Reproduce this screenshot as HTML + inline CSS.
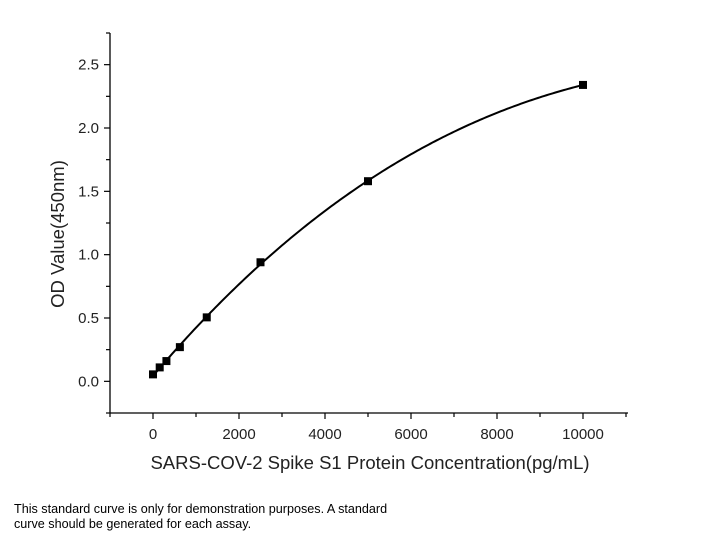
<!DOCTYPE html>
<html><head><meta charset="utf-8"><style>
body{margin:0;background:#fff;width:702px;height:542px;overflow:hidden;font-family:"Liberation Sans",Arial,sans-serif}
svg{position:absolute;left:0;top:0}
.note{position:absolute;left:14px;top:502px;font-size:12.6px;line-height:14.5px;color:#000;width:420px}
</style></head><body>
<svg id="chart" width="702" height="542"></svg>
<div class="note">This standard curve is only for demonstration purposes. A standard<br>curve should be generated for each assay.</div>
<script>
const concs=[0,156,312,625,1250,2500,5000,10000];
const ods=[0.055,0.11,0.16,0.27,0.505,0.94,1.58,2.34];
const xTicks=[0,2000,4000,6000,8000,10000];
const yTicks=[0.0,0.5,1.0,1.5,2.0,2.5];
const NS="http://www.w3.org/2000/svg";
const svg=document.getElementById('chart');
const X0=110,X1=626,Y0=413,Y1=33;
const xmin=-1000,xmax=11000,ymin=-0.25,ymax=2.75;
const sx=v=>X0+(v-xmin)/(xmax-xmin)*(X1-X0);
const sy=v=>Y0-(v-ymin)/(ymax-ymin)*(Y0-Y1);
function mk(t,a,p){const e=document.createElementNS(NS,t);for(const k in a)e.setAttribute(k,a[k]);(p||svg).appendChild(e);return e;}
let e;
e=mk('line',{x1:X0,y1:Y0,x2:X1+2,y2:Y0,stroke:'#000','stroke-width':1.3});


e=mk('line',{x1:X0,y1:Y0,x2:X0,y2:Y1,stroke:'#000','stroke-width':1.3});


for(let v=-1000;v<=11000;v+=1000){
 const major=xTicks.includes(v);
 e=mk('line',{x1:sx(v),y1:Y0,x2:sx(v),y2:Y0+(major?6:4),stroke:'#000','stroke-width':1.2});
 
 
}
xTicks.forEach(v=>{
 e=mk('text',{x:sx(v),y:Y0+26,'text-anchor':'middle','font-size':15,fill:'#222'});
 e.textContent=String(v);
 
 
});
for(let i=0;i<=12;i++){
 const v=-0.25+i*0.25;
 const major=Math.abs(v*2-Math.round(v*2))<1e-6&&v>=0;
 e=mk('line',{x1:X0,y1:sy(v),x2:X0-(major?6:4),y2:sy(v),stroke:'#000','stroke-width':1.2});
 
 
}
yTicks.forEach(v=>{
 e=mk('text',{x:X0-11,y:sy(v)+5,'text-anchor':'end','font-size':15,fill:'#222'});
 e.textContent=v.toFixed(1);
 
 
});
e=mk('text',{x:370,y:469,'text-anchor':'middle','font-size':18.5,fill:'#222'});
e.textContent='SARS-COV-2 Spike S1 Protein Concentration(pg/mL)';


e=mk('text',{x:0,y:0,'text-anchor':'middle','font-size':18.5,fill:'#222',transform:'translate(64,234) rotate(-90)'});
e.textContent='OD Value(450nm)';


// least-squares cubic fit through data
function fit(xs,ys,deg){
 const n=deg+1,A=[],b=[];
 for(let i=0;i<n;i++){A.push(new Array(n).fill(0));b.push(0);}
 xs.forEach((x0,k)=>{const x=x0/10000;for(let i=0;i<n;i++){b[i]+=ys[k]*Math.pow(x,i);for(let j=0;j<n;j++)A[i][j]+=Math.pow(x,i+j);}});
 for(let i=0;i<n;i++){let p=i;for(let r=i+1;r<n;r++)if(Math.abs(A[r][i])>Math.abs(A[p][i]))p=r;[A[i],A[p]]=[A[p],A[i]];[b[i],b[p]]=[b[p],b[i]];
  for(let r=i+1;r<n;r++){const f=A[r][i]/A[i][i];for(let c=i;c<n;c++)A[r][c]-=f*A[i][c];b[r]-=f*b[i];}}
 const c=new Array(n).fill(0);
 for(let i=n-1;i>=0;i--){let s=b[i];for(let j=i+1;j<n;j++)s-=A[i][j]*c[j];c[i]=s/A[i][i];}
 return x0=>{const x=x0/10000;let s=0;for(let i=0;i<n;i++)s+=c[i]*Math.pow(x,i);return s;};
}
const f=fit(concs,ods,3);
const lo=Math.min(...concs),hi=Math.max(...concs);
let d='';
for(let i=0;i<=200;i++){const c=lo+(hi-lo)*i/200;d+=(i?'L':'M')+sx(c).toFixed(2)+','+sy(f(c)).toFixed(2);}
e=mk('path',{d:d,fill:'none',stroke:'#000','stroke-width':2});


concs.forEach((c,i)=>{
 e=mk('rect',{x:sx(c)-4,y:sy(ods[i])-4,width:8,height:8,fill:'#000'});
 
 
});
</script>
</body></html>
